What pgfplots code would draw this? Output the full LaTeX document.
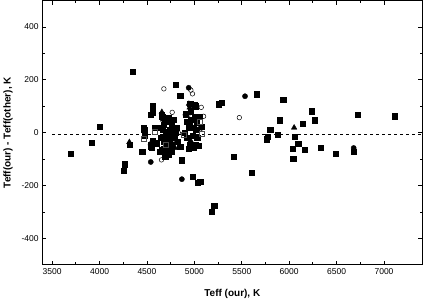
\documentclass[border=0pt]{standalone}
\usepackage{fontspec}
\setmainfont{Liberation Sans}
\usepackage{pgfplots}
\pgfplotsset{compat=1.18}

\begin{document}
\begin{tikzpicture}
\begin{axis}[
    scale only axis,
    width=380pt, height=264pt,
    xmin=3395, xmax=7405,
    ymin=-500, ymax=500,
    xtick={3500,4000,...,7000},
    ytick={-400,-200,0,200,400},
    minor x tick num=1,
    minor y tick num=1,
    tick align=inside,
    major tick length=4pt,
    minor tick length=2.5pt,
    axis line style={line width=1.2pt},
    every tick/.style={black, line width=0.8pt},
    /pgf/number format/assume math mode=true,
    /pgf/number format/set thousands separator={},
    tick label style={font=\fontsize{8.5}{9}\selectfont},
    xlabel={\textbf{Teff (our), K}},
    ylabel={\textbf{Teff(our) - Teff(other), K}},
    label style={font=\fontsize{10}{11}\selectfont},
    xlabel style={at={(axis description cs:0.5,-0.11)}, anchor=center},
    ylabel style={at={(axis description cs:-0.09,0.5)}, anchor=center},
    clip=false,
]
% reference line
\addplot[black, dashed, line width=0.7pt] coordinates {(3500,-7) (7400,-7)};

% filled squares
\addplot[only marks, mark=square*, mark size=2.6pt, black] coordinates {
(4350,230) (4004,23) (3920,-37) (3698,-79) (4453,-73) (4269,-119) (4255,-143)
(4562,100) (4805,181) (4850,141) (5255,108) (5284,113) (5654,146) (5936,125)
(6236,81) (6271,47) (5897,47) (6144,35) (6725,68) (7116,62) (5799,10) (5876,-8)
(5770,-14) (5760,-25) (6056,-15) (6095,-42) (6038,-61) (6165,-65) (6331,-56)
(6489,-80) (6680,-72) (6042,-99) (5417,-90) (5608,-153) (5210,-275) (5185,-300)
(5062,-187) (4985,-166) (5037,-189) (4868,-104) (4699,-86) (4723,-84) (4657,-66)
(4540,-46) (4562,75) (4540,68) (5002,104) (4462,18) (4445,-71)
(4639,18) (4745,11) (4815,18) (4938,18) (5080,24) (4780,49) (4692,43) (4921,43)
(5027,37) (4956,109) (5009,100) (4674,-33) (4763,-46) (4850,-52) (4956,-46)
(5009,-46) (4710,-77) (4639,-71) (4692,-90)
(4660,60) (4680,30) (4700,5) (4720,-10) (4740,-25) (4760,30) (4700,-50)
(4650,-20) (4730,55) (4680,-60) (4790,-20) (4800,0) (4820,-35) (4760,-70)
(4900,0) (4920,-20) (4950,30) (4980,-10) (5000,60) (5020,10) (4960,80)
(4940,-60) (4990,-55) (5040,-50) (4910,70) (5050,60) (5030,-20)
(4600,-40) (4580,20) (4550,-55) (4560,-30) (4470,10) (4480,-10)
(4314,-46) (4540,-52) (4657,68) (4670,10) (4740,-5) (4960,50) (4990,20)
};

% filled circles
\addplot[only marks, mark=*, mark size=2.6pt, black] coordinates {
(5534,138) (6680,-58) (4540,-111) (4868,-176) (4940,170) (4720,-20) (4560,-40)
};

% filled triangles
\addplot[only marks, mark=triangle*, mark size=3.2pt, black] coordinates {
(4314,-36) (4540,-40) (4657,78) (4942,109) (6052,19) (4797,-58)
(4670,50) (4950,95) (5060,20) (4720,-60) (4960,-30)
};

% open circles
\addplot[only marks, mark=o, mark size=2.3pt, black, mark options={fill=white, line width=0.5pt}] coordinates {
(4678,166) (4963,161) (4980,147) (4766,77) (5072,96) (5474,57) (4653,-103)
(4903,68) (4974,62) (5097,62) (4780,-40) (4830,0) (5065,15) (4790,-30)
};

% open squares
\addplot[only marks, mark=square, mark size=2.4pt, black!70, mark options={fill=white, line width=0.5pt}] coordinates {
(4462,-23) (4886,-8) (5080,-5) (4700,-45) (5060,40) (4580,5)
};
\end{axis}
\end{tikzpicture}
\end{document}
